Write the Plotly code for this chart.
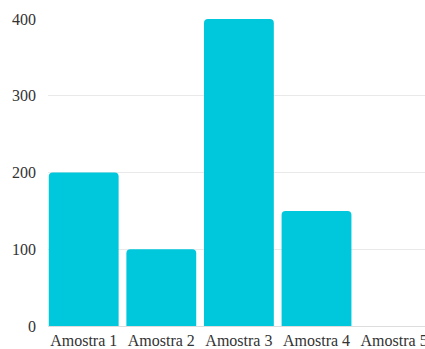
import plotly.graph_objects as go

categories = ["Amostra 1", "Amostra 2", "Amostra 3", "Amostra 4", "Amostra 5"]
values = [200, 100, 400, 150, 0]
y_ticks = [0, 100, 200, 300, 400]

BAR_COLOR = "#00c8dc"
FONT = "Liberation Serif, Times New Roman, serif"

fig = go.Figure(
    go.Bar(
        x=categories,
        y=values,
        marker=dict(color=BAR_COLOR, line=dict(width=0)),
        hoverinfo="skip",
    )
)

fig.update_layout(
    width=425,
    height=349,
    margin=dict(l=48, r=0, t=19, b=23, pad=0),
    paper_bgcolor="white",
    plot_bgcolor="white",
    bargap=0.1,
    barcornerradius=4,
    showlegend=False,
    font=dict(family=FONT, size=16, color="#333333"),
)

fig.update_xaxes(
    type="category",
    range=[-0.46, 4.398],
    showgrid=False,
    showline=True,
    linecolor="#dddddd",
    linewidth=1,
    ticks="",
    ticklabelstandoff=0,
    automargin=False,
    tickfont=dict(family=FONT, size=16, color="#333333"),
    fixedrange=True,
)

fig.update_yaxes(
    range=[0, 400],
    tickvals=y_ticks,
    ticktext=[str(v) for v in y_ticks],
    showgrid=True,
    gridcolor="#e9e9e9",
    gridwidth=1,
    zeroline=False,
    showline=False,
    ticks="",
    ticklabelstandoff=11,
    automargin=False,
    tickfont=dict(family=FONT, size=16, color="#333333"),
    fixedrange=True,
)

fig.write_html("out.html", config={"displayModeBar": False})
